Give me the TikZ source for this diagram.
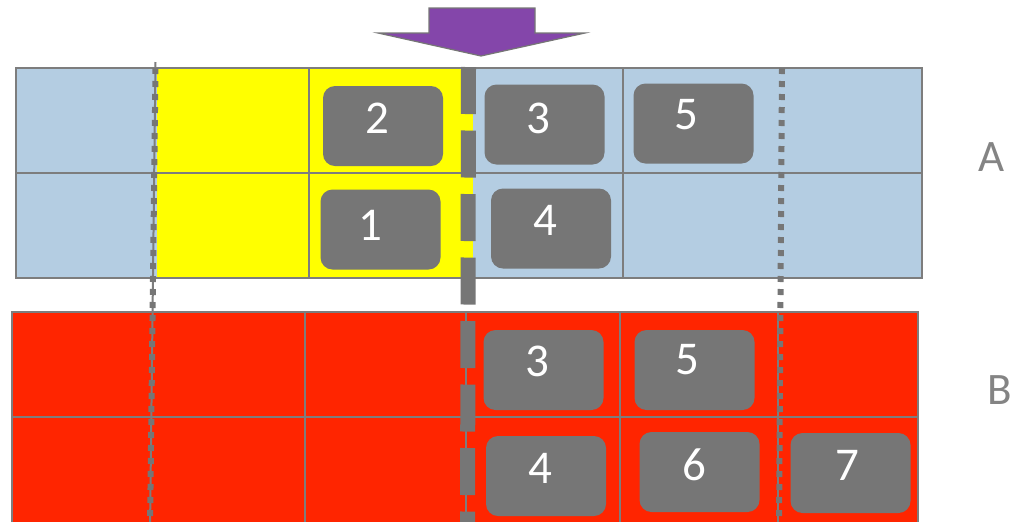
\documentclass[tikz,border=0pt]{standalone}
\usepackage{fontspec}
\setmainfont{Carlito}
\definecolor{skyA}{HTML}{B4CDE2}
\definecolor{sun}{HTML}{FFFF00}
\definecolor{brick}{HTML}{FF2500}
\definecolor{slate}{HTML}{767676}
\definecolor{grape}{HTML}{8446AA}
\begin{document}
\begin{tikzpicture}[x=0.5pt,y=-0.5pt,
  gridline/.style={draw=slate!95, line width=1pt},
  tile/.style={rounded corners=6pt, fill=slate, minimum width=60pt, minimum height=40pt, inner sep=0pt},
  num/.style={text=white, inner sep=0pt, font=\fontsize{23.5}{24}\selectfont},
  bandlabel/.style={text=slate!90, inner sep=0pt, font=\fontsize{22.5}{24}\selectfont},
  dotline/.style={draw=slate, line width=3pt, dash pattern=on 3pt off 3.5pt},
  splitline/.style={draw=slate, line width=7.5pt, dash pattern=on 23.5pt off 8.25pt}]
\useasboundingbox (0,0) rectangle (1017,521);
\clip (0,0) rectangle (1017,521);

% band A
\fill[skyA] (16,68) rectangle (922,278);
\fill[sun] (157,68) rectangle (473,278);
\draw[gridline] (16,68) rectangle (922,278);
\draw[gridline] (16,173) -- (922,173);
\draw[gridline] (309,68) -- (309,278);
\draw[gridline] (623,68) -- (623,278);

% band B
\fill[brick] (12,312) rectangle (918,540);
\draw[gridline] (12,540) -- (12,312) -- (918,312) -- (918,540);
\draw[gridline] (12,417) -- (918,417);
\draw[gridline] (305,312) -- (305,540);
\draw[gridline] (466,312) -- (466,540);
\draw[gridline] (620,312) -- (620,540);
\draw[gridline] (778,312) -- (778,540);

% window borders
\draw[gridline] (155.5,62) -- (150,530);
\draw[dotline] (155.5,68) -- (150,530);
\draw[dotline] (782,68) -- (779,530);
\draw[splitline] (468.5,67) -- (467.5,540);

% downward arrow
\coordinate (tip) at (481,56);
\fill[grape, draw=slate, line width=0.6pt] (429,8) -- (535,8) -- (535,33) -- (585,33) -- (tip) -- (378,33) -- (429,33) -- cycle;

% tiles of band A
\node[tile] (a2) at (383,126) {};
\node[tile] (a3) at (544.5,124.5) {};
\node[tile] (a5) at (693.5,123.5) {};
\node[tile] (a1) at (380.5,229.5) {};
\node[tile] (a4) at (551,228.5) {};
\node[num] (n a2) at (377,118) {2};
\node[num] (n a3) at (538,118) {3};
\node[num] (n a5) at (686,115) {5};
\node[num] (n a1) at (370,225) {1};
\node[num] (n a4) at (545,220) {4};

% tiles of band B
\node[tile] (b3) at (543.5,370) {};
\node[tile] (b5) at (694.5,370) {};
\node[tile] (b4) at (546,476) {};
\node[tile] (b6) at (699.5,472) {};
\node[tile] (b7) at (850.5,473) {};
\node[num] (n b3) at (537,361) {3};
\node[num] (n b5) at (687,360) {5};
\node[num] (n b4) at (540,468) {4};
\node[num] (n b6) at (694,465) {6};
\node[num] (n b7) at (847,465) {7};

% band names
\node[bandlabel] (la) at (992,157) {A};
\node[bandlabel] (lb) at (1000,390) {B};
\end{tikzpicture}
\end{document}
